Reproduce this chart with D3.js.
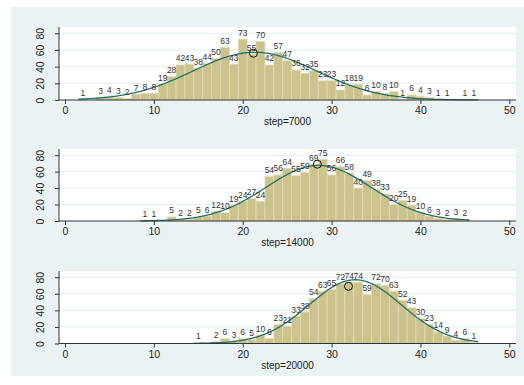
<!DOCTYPE html>
<html><head><meta charset="utf-8">
<script src="https://cdn.jsdelivr.net/npm/d3@7/dist/d3.min.js"></script>
<style>body{margin:0;background:#fff;}svg{display:block;font-family:"Liberation Sans",Arial,sans-serif;}</style>
</head><body>
<script>
const panelLabels = ["step=7000", "step=14000", "step=20000"];
const xTicks = [0, 10, 20, 30, 40, 50];
const yTicks = [0, 20, 40, 60, 80];

const bins7000 = [2,3,4,5,6,7,8,9,10,11,12,13,14,15,16,17,18,19,20,21,22,23,24,25,26,27,28,29,30,31,32,33,34,35,36,37,38,39,40,41,42,43,44,45,46];
const counts7000 = [1,0,3,4,3,2,7,8,8,19,28,42,43,38,44,50,63,43,73,55,70,42,57,47,36,32,35,23,23,12,18,19,6,10,8,10,1,6,4,3,1,1,0,1,1];

const bins14000 = [9,10,11,12,13,14,15,16,17,18,19,20,21,22,23,24,25,26,27,28,29,30,31,32,33,34,35,36,37,38,39,40,41,42,43,44,45];
const counts14000 = [1,1,0,5,2,2,5,6,12,10,19,24,27,24,54,56,64,55,59,69,75,56,66,58,40,49,38,33,20,25,19,10,6,3,2,3,2];

const bins20000 = [15,16,17,18,19,20,21,22,23,24,25,26,27,28,29,30,31,32,33,34,35,36,37,38,39,40,41,42,43,44,45,46];
const counts20000 = [1,0,2,6,3,6,5,10,6,23,21,33,38,54,63,65,72,74,74,59,72,70,63,52,43,30,23,14,9,4,6,1];

const markerX = [21.2, 28.4, 31.9];
const markerY = [56, 69, 69];

const W = 524, H = 385;
const svg = d3.select("body").append("svg").attr("width", W).attr("height", H);
svg.append("rect").attr("x", 11).attr("y", 7).attr("width", W - 11).attr("height", 369).attr("fill", "#eaf2f3");

const panels = [
  {bins: bins7000, counts: counts7000, top: 27, bottom: 100},
  {bins: bins14000, counts: counts14000, top: 149, bottom: 221},
  {bins: bins20000, counts: counts20000, top: 271, bottom: 343.5}
];
const left = 59, right = 516;
const x = d3.scaleLinear().domain([0, 50]).range([65, 509.3]);
const binW = 1;

panels.forEach((p, i) => {
  const g = svg.append("g");
  const y = d3.scaleLinear().domain([0, 87.5]).range([p.bottom, p.top]);
  g.append("rect").attr("x", left).attr("y", p.top).attr("width", right - left).attr("height", p.bottom - p.top).attr("fill", "#fff");
  // gridlines
  g.selectAll(".grid").data(yTicks.slice(1)).join("line")
    .attr("x1", left).attr("x2", right).attr("y1", d => y(d)).attr("y2", d => y(d))
    .attr("stroke", "#e3ecee").attr("stroke-width", 1);
  const data = p.bins.map((b, j) => ({b, c: p.counts[j]}));
  // bars
  g.selectAll(".bar").data(data.filter(d => d.c > 0)).join("rect")
    .attr("x", d => x(d.b - binW / 2)).attr("width", d => x(d.b + binW / 2) - x(d.b - binW / 2))
    .attr("y", d => y(d.c)).attr("height", d => y(0) - y(d.c))
    .attr("fill", "#ccc38c").attr("stroke", "#e2dcb6").attr("stroke-width", 0.8);
  // normal curve
  const N = d3.sum(p.counts);
  const mean = d3.sum(data, d => d.b * d.c) / N;
  const sd = Math.sqrt(d3.sum(data, d => d.c * (d.b - mean) ** 2) / (N - 1));
  const lo = d3.min(data.filter(d => d.c > 0), d => d.b) - binW / 2;
  const hi = d3.max(data.filter(d => d.c > 0), d => d.b) + binW / 2;
  const pts = d3.range(lo, hi + 0.001, (hi - lo) / 200).map(v => [v, N * binW * Math.exp(-0.5 * ((v - mean) / sd) ** 2) / (sd * Math.sqrt(2 * Math.PI))]);
  g.append("path").datum(pts).attr("fill", "none").attr("stroke", "#22706c").attr("stroke-width", 1.3)
    .attr("d", d3.line().x(d => x(d[0])).y(d => y(d[1])));
  // labels
  g.selectAll(".lab").data(data.filter(d => d.c > 0)).join("text")
    .attr("x", d => x(d.b)).attr("y", d => y(d.c) - 3.5)
    .attr("text-anchor", "middle").attr("font-size", 8.5).attr("fill", "#333")
    .text(d => d.c);
  // marker
  g.append("circle").attr("cx", x(markerX[i])).attr("cy", y(markerY[i])).attr("r", 4)
    .attr("fill", "none").attr("stroke", "#111").attr("stroke-width", 1);
  // axes
  const ya = g.append("g").attr("transform", `translate(${left},0)`)
    .call(d3.axisLeft(y).tickValues(yTicks).tickSize(4).tickPadding(0));
  ya.select(".domain").attr("d", `M0,${p.top}V${p.bottom}`).attr("stroke", "#333");
  ya.selectAll(".tick line").attr("stroke", "#333");
  ya.selectAll(".tick text").attr("transform", "rotate(-90)").attr("x", 0).attr("y", -15).attr("dy", 0)
    .attr("text-anchor", "middle").attr("font-size", 10.5).attr("fill", "#222").style("font-family", "Liberation Sans, Arial, sans-serif");
  const xa = g.append("g").attr("transform", `translate(0,${p.bottom})`)
    .call(d3.axisBottom(x).tickValues(xTicks).tickSize(4).tickPadding(3));
  xa.select(".domain").attr("d", `M${left},0H${right}`).attr("stroke", "#333");
  xa.selectAll(".tick line").attr("stroke", "#333");
  xa.selectAll(".tick text").attr("font-size", 10.5).attr("fill", "#222").style("font-family", "Liberation Sans, Arial, sans-serif");
  g.append("text").attr("x", (left + right) / 2).attr("y", p.bottom + 25).attr("text-anchor", "middle")
    .attr("font-size", 10).attr("fill", "#222").text(panelLabels[i]);
});
</script>
</body></html>
